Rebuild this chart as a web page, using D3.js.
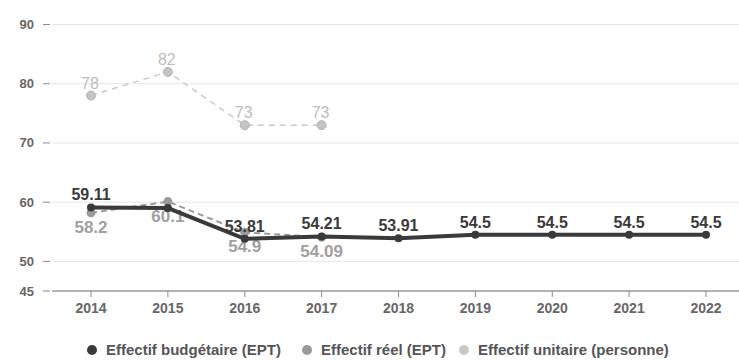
<!DOCTYPE html>
<html>
<head>
<meta charset="utf-8">
<script src="https://cdn.jsdelivr.net/npm/d3@7"></script>
<style>
  body { margin: 0; background: #fff; }
  #chart { width: 739px; height: 360px; }
  text { font-family: "Liberation Sans", Arial, sans-serif; }
</style>
</head>
<body>
<div id="chart"></div>
<script>
const years = ["2014", "2015", "2016", "2017", "2018", "2019", "2020", "2021", "2022"];
const budgetaire = [59.11, 59, 53.81, 54.21, 53.91, 54.5, 54.5, 54.5, 54.5];
const reel = [58.2, 60.1, 54.9, 54.09];
const unitaire = [78, 82, 73, 73];
const yTicks = [45, 50, 60, 70, 80, 90];
const seriesNames = ["Effectif budgétaire (EPT)", "Effectif réel (EPT)", "Effectif unitaire (personne)"];
const seriesColors = ["#3a3a3a", "#9a9a9a", "#c8c8c8"];

const width = 739, height = 360;

const svg = d3.select('#chart')
  .append("svg")
  .attr('width', width)
  .attr('height', height);

const x = d3.scalePoint()
  .domain(years)
  .range([91, 706]);

const y = d3.scaleLinear()
  .domain([45, 90])
  .range([291, 24.5]);

// grid + y labels
const yAxis = svg.append("g").attr('class', "yAxis");
yAxis.selectAll(".grid")
  .data(yTicks.filter(d => d !== 45))
  .enter().append("line")
  .attr("x1", 52).attr("x2", width)
  .attr("y1", d => y(d)).attr("y2", d => y(d))
  .attr("stroke", "#e6e6e6");

yAxis.selectAll(".tickDash")
  .data(yTicks)
  .enter().append("line")
  .attr("x1", 43).attr("x2", 50)
  .attr("y1", d => y(d)).attr("y2", d => y(d))
  .attr("stroke", "#888");

yAxis.selectAll(".tickLabel")
  .data(yTicks)
  .enter().append("text")
  .attr("x", 34)
  .attr("y", d => y(d))
  .attr("dy", "0.35em")
  .attr("text-anchor", "end")
  .style("font-size", "13px")
  .style("font-weight", "bold")
  .attr("fill", "#666")
  .text(d => d);

// x axis
svg.append("line")
  .attr("x1", 52).attr("x2", width)
  .attr("y1", y(45)).attr("y2", y(45))
  .attr("stroke", "#999")
  .attr("stroke-width", 1.5);

const xAxis = svg.append("g").attr('class', "xAxis");
xAxis.selectAll("line")
  .data(years)
  .enter().append("line")
  .attr("x1", d => x(d)).attr("x2", d => x(d))
  .attr("y1", y(45)).attr("y2", y(45) + 6)
  .attr("stroke", "#888");

xAxis.selectAll("text")
  .data(years)
  .enter().append("text")
  .attr("x", d => x(d))
  .attr("y", 313)
  .attr("text-anchor", "middle")
  .style("font-size", "14px")
  .style("font-weight", "bold")
  .attr("fill", "#666")
  .text(d => d);

const line = d3.line()
  .x(d => x(d.year))
  .y(d => y(d.value));

function toPoints(values) {
  return values.map((v, i) => ({ year: years[i], value: v }));
}

// unitaire (light dashed)
const uData = toPoints(unitaire);
const uG = svg.append("g");
uG.append("path")
  .datum(uData)
  .attr("d", line)
  .attr("fill", "none")
  .attr("stroke", seriesColors[2])
  .attr("stroke-width", 1.5)
  .attr("stroke-dasharray", "6,5");
uG.selectAll("circle")
  .data(uData)
  .enter().append("circle")
  .attr("cx", d => x(d.year)).attr("cy", d => y(d.value))
  .attr("r", 4.5)
  .attr("fill", "#c4c4c4")
  .attr("stroke", "#b4b4b4");
uG.selectAll("text")
  .data(uData)
  .enter().append("text")
  .attr("x", d => x(d.year) - 1)
  .attr("y", d => y(d.value) - 7)
  .attr("text-anchor", "middle")
  .style("font-size", "16px")
  .attr("fill", "#bdbdbd")
  .text(d => d.value);

// reel (gray dashed)
const rData = toPoints(reel);
const rG = svg.append("g");
rG.append("path")
  .datum(rData)
  .attr("d", line)
  .attr("fill", "none")
  .attr("stroke", seriesColors[1])
  .attr("stroke-width", 2)
  .attr("stroke-dasharray", "6,4");
rG.selectAll("circle")
  .data(rData)
  .enter().append("circle")
  .attr("cx", d => x(d.year)).attr("cy", d => y(d.value))
  .attr("r", 4.5)
  .attr("fill", seriesColors[1]);
rG.selectAll("text")
  .data(rData)
  .enter().append("text")
  .attr("x", d => x(d.year))
  .attr("y", d => y(d.value) + 20)
  .attr("text-anchor", "middle")
  .style("font-size", "17px")
  .style("font-weight", "bold")
  .attr("fill", "#a0a0a0")
  .text(d => d.value);

// budgetaire (thick dark)
const bData = toPoints(budgetaire);
const bG = svg.append("g");
bG.append("path")
  .datum(bData)
  .attr("d", line)
  .attr("fill", "none")
  .attr("stroke", seriesColors[0])
  .attr("stroke-width", 4);
bG.selectAll("circle")
  .data(bData)
  .enter().append("circle")
  .attr("cx", d => x(d.year)).attr("cy", d => y(d.value))
  .attr("r", 4)
  .attr("fill", seriesColors[0]);
bG.selectAll("text")
  .data(bData.filter(d => d.year !== "2015"))
  .enter().append("text")
  .attr("x", d => x(d.year))
  .attr("y", d => y(d.value) - 7)
  .attr("text-anchor", "middle")
  .style("font-size", "16px")
  .style("font-weight", "bold")
  .attr("fill", "#3a3a3a")
  .text(d => d.value);

// legend
const legend = svg.append("g").attr('class', "legend");
const legendX = [92, 307, 464];
seriesNames.forEach((name, i) => {
  legend.append("circle")
    .attr("cx", legendX[i]).attr("cy", 350)
    .attr("r", 5)
    .attr("fill", seriesColors[i]);
  legend.append("text")
    .attr("x", legendX[i] + 14)
    .attr("y", 355)
    .style("font-size", "15px")
    .style("font-weight", "bold")
    .attr("fill", "#555")
    .text(name);
});
</script>
</body>
</html>
